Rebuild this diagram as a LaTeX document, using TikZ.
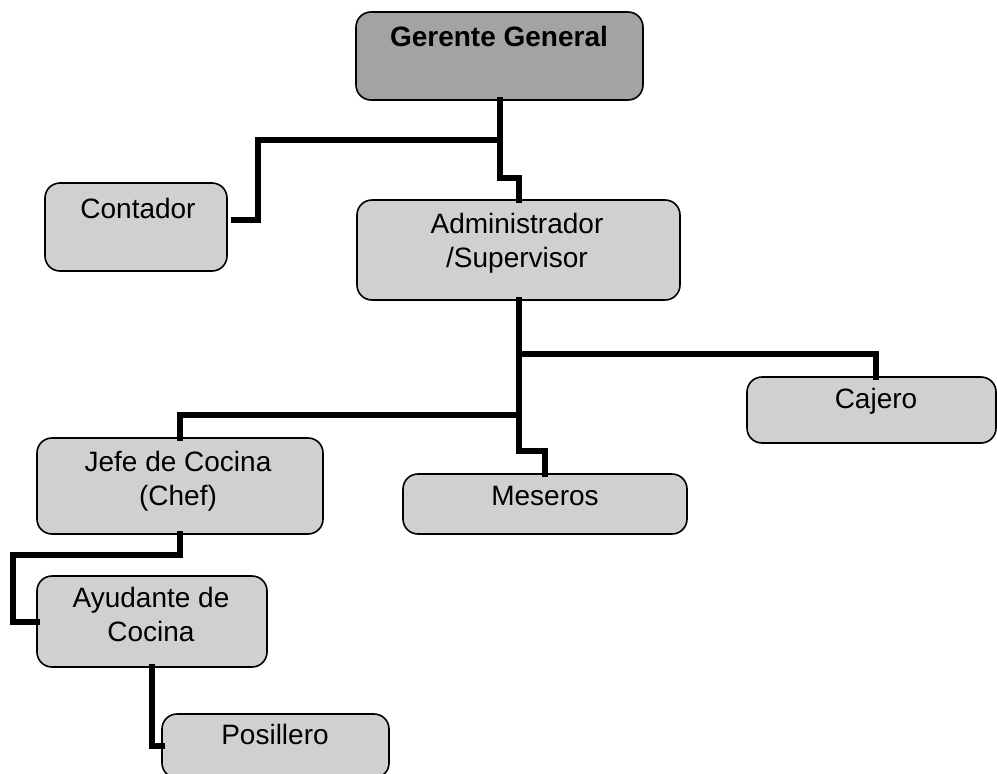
\documentclass[tikz,border=0pt]{standalone}
\usepackage{fontspec}
\setmainfont{Liberation Sans}
\definecolor{boxgray}{RGB}{208,208,208}
\definecolor{topgray}{RGB}{163,163,163}
\begin{document}
\begin{tikzpicture}[x=1pt,y=-1pt,
  box/.style={draw=black, line width=1.6pt, rounded corners=15pt, fill=boxgray,
    inner sep=0pt, outer sep=0pt, anchor=north west},
  topbox/.style={box, fill=topgray},
  lbl/.style={font=\fontsize{28}{34}\selectfont, align=center, inner sep=0pt, anchor=base},
  conn/.style={line width=6pt, line join=miter, line cap=rect}]
\useasboundingbox (0,0) rectangle (997,774);
\clip (0,0) rectangle (997,774);
% boxes
\node[topbox, minimum width=287pt, minimum height=88pt] (ger) at (356,12) {};
\node[box, minimum width=182pt, minimum height=88pt] (con) at (45,183) {};
\node[box, minimum width=323pt, minimum height=100pt] (adm) at (357,200) {};
\node[box, minimum width=249pt, minimum height=66pt] (caj) at (747,377) {};
\node[box, minimum width=286pt, minimum height=96pt] (jef) at (37,438) {};
\node[box, minimum width=284pt, minimum height=60pt] (mes) at (403,474) {};
\node[box, minimum width=230pt, minimum height=91pt] (ayu) at (37,576) {};
\node[box, minimum width=227pt, minimum height=64pt] (pos) at (162,714) {};
% labels (base anchor = baseline of last line)
\node[lbl, font=\fontsize{28}{34}\selectfont\bfseries] (tger) at (499,46) {Gerente General};
\node[lbl] (tcon) at (138,218) {Contador};
\node[lbl] (tadm) at (517,267) {Administrador\\/Supervisor};
\node[lbl] (tcaj) at (876,408) {Cajero};
\node[lbl] (tjef) at (178,505) {Jefe de Cocina\\(Chef)};
\node[lbl] (tmes) at (545,505) {Meseros};
\node[lbl] (tayu) at (151,641) {Ayudante de\\Cocina};
\node[lbl] (tpos) at (275,744) {Posillero};
% connectors
\coordinate (conend) at (234,220);
\draw[conn] (ger.south) -- ++(0,78) -| (adm.north);
\draw[conn] ([yshift=-40pt]ger.south) -- (258,140) |- (conend);
\draw[conn] (adm.south) -- ++(0,151) -| (mes.north);
\draw[conn] ([yshift=-54pt]adm.south) -| ([xshift=4pt]caj.north);
\draw[conn] ([yshift=-115pt]adm.south) -| (jef.north);
\draw[conn] (jef.south) -- ++(0,21) -| ([xshift=-24pt]ayu.west) -- (ayu.west);
\draw[conn] (ayu.south) |- (pos.west);
\end{tikzpicture}
\end{document}
